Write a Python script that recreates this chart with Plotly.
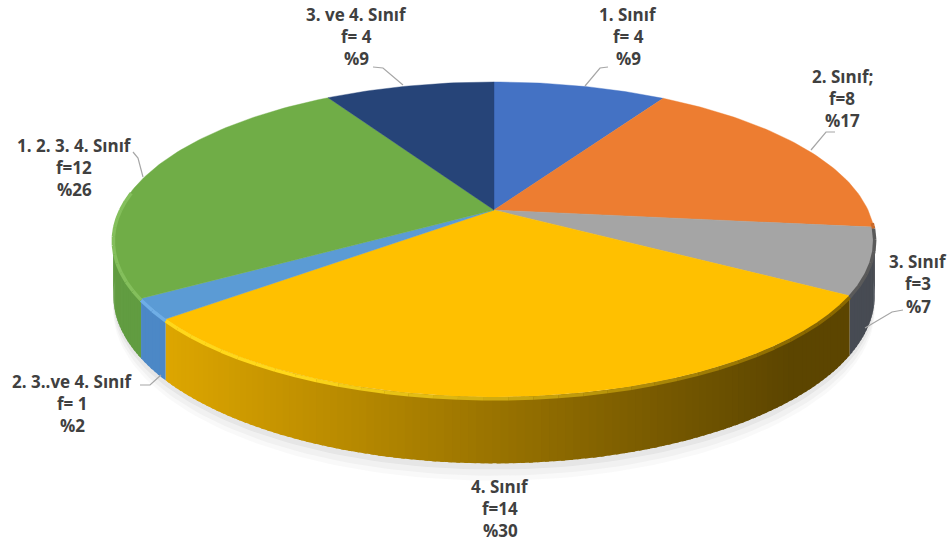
import math
import numpy as np
import plotly.graph_objects as go

# --- data ---
categories = ["1. Sınıf", "2. Sınıf;", "3. Sınıf", "4. Sınıf", "2. 3..ve 4. Sınıf", "1. 2. 3. 4. Sınıf", "3. ve 4. Sınıf"]
freq_labels = ["f= 4", "f=8", "f=3", "f=14", "f= 1", "f=12", "f= 4"]
percent_labels = ["%9", "%17", "%7", "%30", "%2", "%26", "%9"]
values = [4, 8, 3, 14, 1, 12, 4]
colors = ["#4472C4", "#ED7D31", "#A5A5A5", "#FFC000", "#5B9BD5", "#70AD47", "#264478"]
wall_left = ["#3A62A8", "#C96A2A", "#4A4E57", "#DDA600", "#4C88C6", "#619C41", "#1F3864"]
wall_right = ["#3A62A8", "#A85824", "#474B53", "#5C4500", "#4C88C6", "#5F9A42", "#1F3864"]
label_centers_x = [628, 842, 918, 500, 72, 74, 356]
label_lines_y = [(14, 36, 58), (76, 98, 120), (261, 283, 306), (486, 508, 530), (381, 403, 425), (145, 167, 189), (14, 36, 58)]
leaders = [
    [(608, 67), (600, 68), (585, 86)],
    [(835, 132), (826, 132), (811, 150)],
    [(903, 310), (892, 312), (865, 328)],
    [],
    [(140, 385), (150, 385), (161, 375)],
    [(133, 152), (138, 158), (143, 177)],
    [(373, 67), (383, 68), (403, 85)],
]

# --- projection of the tilted disc ---
CX, CY, AX, AY, PERSP, DEPTH, WARP = 494.0, 210.0, 374.0, 152.0, 0.187, 54.0, math.radians(4.5)


def project(theta, drop=0.0):
    theta = np.asarray(theta, dtype=float)
    theta = theta + WARP * (1 - np.cos(theta)) / 2
    u, v = np.sin(theta), -np.cos(theta)
    den = 1 - PERSP * v
    return CX + AX * u / den, CY + (AY * v + drop) / den


def hex2rgb(h):
    return tuple(int(h[i:i + 2], 16) for i in (1, 3, 5))


def mix(a, b, t):
    t = min(max(t, 0), 1)
    ra, rb = hex2rgb(a), hex2rgb(b)
    return "rgb(%d,%d,%d)" % tuple(round(x + (y - x) * t) for x, y in zip(ra, rb))


fig = go.Figure()


def poly(xs, ys, color, line=0.6):
    fig.add_trace(go.Scatter(x=list(xs), y=list(ys), mode="lines", fill="toself", fillcolor=color,
                             line=dict(color=color, width=line), hoverinfo="skip", showlegend=False))


total = sum(values)
edges = np.cumsum([0] + values) / total * 2 * math.pi

# soft shadow below the disc
whole = np.linspace(0, 2 * math.pi, 240)
for extra, alpha in [(14, 0.04), (10, 0.05), (5, 0.07)]:
    sx, sy = project(whole, DEPTH + extra)
    poly(sx, sy, "rgba(90,90,90,%.2f)" % alpha, 0)

# side walls, back to front; each strip overlaps the next one so no seams show
front_a, front_b = math.radians(92), math.radians(275)
for i, (a, b) in enumerate(zip(edges[:-1], edges[1:])):
    lo, hi = max(a, front_a), min(b, front_b)
    if lo >= hi:
        continue
    n = max(2, int((hi - lo) / math.radians(1)))
    th = np.linspace(lo, hi, n + 1)
    step = th[1] - th[0]
    if i >= 4:  # left half: paint from the right end of the slice outwards
        pairs = [(max(t0 - step * 0.5, lo), t1) for t0, t1 in zip(th[:-1], th[1:])]
    else:
        pairs = [(t0, min(t1 + step * 0.5, hi)) for t0, t1 in zip(th[:-1], th[1:])]
    for t0, t1 in pairs:
        t2 = np.linspace(t0, t1, 4)
        x0, y0 = project(t2)
        x1, y1 = project(t2[::-1], DEPTH)
        frac = (x0.mean() - 165) / (790 - 165)
        poly(list(x0) + list(x1), list(y0) + list(y1), mix(wall_left[i], wall_right[i], frac), 0)

# top faces
for i, (a, b) in enumerate(zip(edges[:-1], edges[1:])):
    th = np.linspace(a, b, max(8, int((b - a) / math.radians(1))))
    x, y = project(th)
    poly([CX] + list(x) + [CX], [CY] + list(y) + [CY], colors[i], 0.4)

# rim highlight on the front edge
rim_light = ["#4472C4", "#F08A45", "#8A8A8A", "#FFD81A", "#6FAEE6", "#84BF5C", "#264478"]
rim_dark = ["#4472C4", "#C96A2A", "#5A5A5A", "#8A6800", "#6FAEE6", "#84BF5C", "#264478"]
for i, (a, b) in enumerate(zip(edges[:-1], edges[1:])):
    lo, hi = max(a, front_a), min(b, front_b)
    if lo >= hi:
        continue
    th = np.linspace(lo, hi, max(3, int((hi - lo) / math.radians(3))))
    for t0, t1 in zip(th[:-1], th[1:]):
        x, y = project(np.array([t0, t1]), 1.5)
        frac = (x.mean() - 300) / (800 - 300)
        fig.add_trace(go.Scatter(x=x, y=y, mode="lines", hoverinfo="skip", showlegend=False,
                                 line=dict(color=mix(rim_light[i], rim_dark[i], frac), width=3.5)))

# leader lines
for pts in leaders:
    if pts:
        fig.add_trace(go.Scatter(x=[p[0] for p in pts], y=[p[1] for p in pts], mode="lines", hoverinfo="skip",
                                 showlegend=False, line=dict(color="#A6A6A6", width=1.2)))

# labels
for name, f, pct, xc, ys in zip(categories, freq_labels, percent_labels, label_centers_x, label_lines_y):
    for txt, yy in zip((name, f, pct), ys):
        fig.add_annotation(x=xc, y=yy, text="<b>%s</b>" % txt, showarrow=False, xanchor="center", yanchor="middle",
                           font=dict(family="Open Sans", size=17, color="#404040"))

fig.update_layout(width=949, height=542, margin=dict(l=0, r=0, t=0, b=0), paper_bgcolor="white",
                  plot_bgcolor="white", showlegend=False,
                  xaxis=dict(range=[0, 949], visible=False, fixedrange=True),
                  yaxis=dict(range=[542, 0], visible=False, fixedrange=True))
fig.write_html("out.html", config={"displayModeBar": False},
               post_script="document.body.style.margin='0';document.body.style.overflow='hidden';")
